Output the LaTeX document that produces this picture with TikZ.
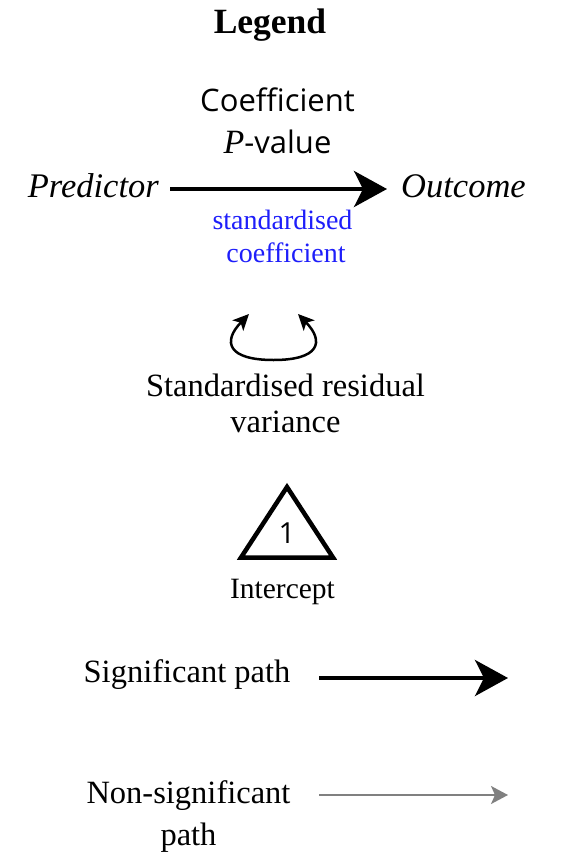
\documentclass[tikz,border=0pt]{standalone}
\usepackage{fontspec}
\setmainfont{Liberation Serif}
\newfontfamily\sansf{Open Sans}
\usetikzlibrary{arrows.meta}
\definecolor{stdblue}{RGB}{30,30,250}
\definecolor{nsgray}{RGB}{128,128,128}
\tikzset{
  txt/.style={inner sep=0pt, anchor=base, align=center, font=\fontsize{32.5}{36}\selectfont},
  ital/.style={inner sep=0pt, font=\fontsize{34.5}{40}\selectfont\itshape},
  sanstxt/.style={inner sep=0pt, anchor=base, font=\fontsize{31}{36}\selectfont\sansf},
  bigarrow/.style={line width=4pt, -{Stealth[length=33pt, width=36pt, inset=9pt]}},
  grayarrow/.style={line width=1.6pt, draw=nsgray, -{Stealth[length=17pt, width=18pt, inset=4pt]}},
  looparrow/.style={line width=2.5pt, {Stealth[length=16pt, width=15pt, inset=4pt]}-{Stealth[length=16pt, width=15pt, inset=4pt]}},
}
\begin{document}
\begin{tikzpicture}[x=1pt, y=-1pt]
\useasboundingbox (0,0) rectangle (560,862);
% title
\node[inner sep=0pt, anchor=base, font=\fontsize{35.5}{40}\selectfont\bfseries] (title) at (270,33) {Legend};
% coefficient labels
\node[sanstxt] (coef) at (277.5,111) {Coefficient};
\node[sanstxt] (pval) at (277.5,153) {{\rmfamily\itshape\fontsize{34}{36}\selectfont P}-value};
% predictor -> outcome
\node[ital, anchor=base east] (pred) at (159,197) {Predictor};
\node[ital, anchor=base west] (outc) at (401,197) {Outcome};
\coordinate (a1) at (170,189);
\coordinate (a2) at (387,189);
\draw[bigarrow] (a1) -- (a2);
% multi-line nodes: base anchor = baseline of last line
\node[txt, text=stdblue, font=\fontsize{28}{33}\selectfont] (std) at (282.5,262) {standardised\\\ coefficient};
% residual variance loop
\coordinate (lt) at (249,314);
\coordinate (rt) at (298,314);
\draw[looparrow] (lt) .. controls (222,342) and (228,360) .. (273.5,360) .. controls (319,360) and (325,342) .. (rt);
\node[txt] (resid) at (285.5,432) {Standardised residual\\variance};
% intercept triangle
\coordinate (ta) at (287,487);
\coordinate (tl) at (241,557.5);
\coordinate (tr) at (333,557.5);
\draw[line width=4.5pt, line join=miter] (ta) -- (tl) -- (tr) -- cycle;
\node[inner sep=0pt, anchor=base, font=\fontsize{29}{32}\selectfont\sansf] (one) at (287,543) {1};
\node[inner sep=0pt, anchor=base, font=\fontsize{29.5}{36}\selectfont] (icpt) at (282.5,598) {Intercept};
% significant path
\node[txt] (sig) at (187,682) {Significant path};
\coordinate (s1) at (319,678);
\coordinate (s2) at (508,678);
\draw[bigarrow] (s1) -- (s2);
% non-significant path
\node[txt, font=\fontsize{32.5}{42}\selectfont] (nsig) at (188.5,845) {Non-significant\\path};
\coordinate (n1) at (319,795);
\coordinate (n2) at (508,795);
\draw[grayarrow] (n1) -- (n2);
\end{tikzpicture}
\end{document}
